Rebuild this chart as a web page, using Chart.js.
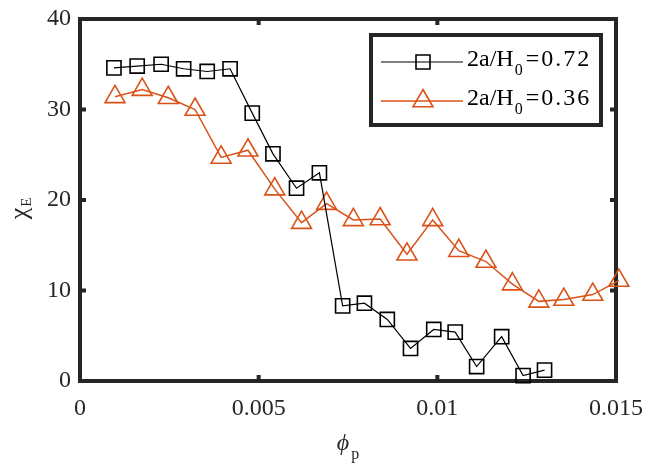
<!DOCTYPE html>
<html><head><meta charset="utf-8">
<script src="https://cdn.jsdelivr.net/npm/chart.js@4.4.1/dist/chart.umd.min.js"></script>
<style>html,body{margin:0;padding:0;background:#fff;}#wrap{width:647px;height:464px;}</style>
</head><body><div id="wrap"><canvas id="c" width="647" height="464"></canvas></div>
<script>
// ---- data ----
const xTicks = [0, 0.005, 0.01, 0.015];
const xTickLabels = ['0', '0.005', '0.01', '0.015'];
const yTicks = [0, 10, 20, 30, 40];
const yTickLabels = ['0', '10', '20', '30', '40'];

const phi072 = [0.00095, 0.0016, 0.00227, 0.0029, 0.00356, 0.0042, 0.00482, 0.0054, 0.00606, 0.0067,
                0.00735, 0.00796, 0.0086, 0.00925, 0.0099, 0.0105, 0.0111, 0.0118, 0.0124, 0.013];
const chi072 = [34.6, 34.8, 35.0, 34.5, 34.2, 34.5, 29.6, 25.1, 21.3, 23.0,
                8.3, 8.6, 6.8, 3.6, 5.7, 5.4, 1.6, 4.9, 0.6, 1.2];

const phi036 = [0.00098, 0.00174, 0.00247, 0.00322, 0.00395, 0.0047, 0.00545, 0.0062, 0.0069, 0.00765,
                0.0084, 0.00915, 0.00987, 0.0106, 0.01136, 0.0121, 0.01284, 0.01354, 0.01435, 0.01508];
const chi036 = [31.4, 32.2, 31.3, 30.0, 24.7, 25.5, 21.2, 17.5, 19.6, 17.8,
                17.9, 14.0, 17.8, 14.4, 13.2, 10.7, 8.8, 9.0, 9.55, 11.1];

const seriesNames = ['2a/H|0|=0.72', '2a/H|0|=0.36'];
const xTitle = ['ϕ', 'p'];
const yTitle = ['χ', 'E'];

const AX = '#262626';
const ORANGE = '#D95319';
const SERIF = '"Liberation Serif", "Times New Roman", serif';

const toPts = (xs, ys) => xs.map((x, i) => ({x: x, y: ys[i]}));

const framePlugin = {
  id: 'frame',
  beforeDatasetsDraw(chart) {
    const {ctx, chartArea: a, scales} = chart;
    ctx.save();
    ctx.strokeStyle = AX;
    ctx.lineWidth = 4;
    ctx.strokeRect(a.left, a.top, a.right - a.left, a.bottom - a.top);
    const tl = 6;
    ctx.beginPath();
    xTicks.forEach(v => {
      const px = scales.x.getPixelForValue(v);
      if (px <= a.left + 2 || px >= a.right - 2) return;
      ctx.moveTo(px, a.bottom); ctx.lineTo(px, a.bottom - tl);
      ctx.moveTo(px, a.top); ctx.lineTo(px, a.top + tl);
    });
    yTicks.forEach(v => {
      const py = scales.y.getPixelForValue(v);
      if (py <= a.top + 2 || py >= a.bottom - 2) return;
      ctx.moveTo(a.left, py); ctx.lineTo(a.left + tl, py);
      ctx.moveTo(a.right, py); ctx.lineTo(a.right - tl, py);
    });
    ctx.stroke();
    ctx.restore();
  },
  afterDraw(chart) {
    const {ctx, chartArea: a} = chart;
    ctx.save();
    // x title
    ctx.fillStyle = AX;
    ctx.textBaseline = 'alphabetic';
    ctx.font = 'italic 24px ' + SERIF;
    const cx = (a.left + a.right) / 2;
    const w1 = ctx.measureText(xTitle[0]).width;
    ctx.font = '16px ' + SERIF;
    const w2 = ctx.measureText(xTitle[1]).width;
    let sx = cx - (w1 + w2 + 2) / 2;
    ctx.font = 'italic 24px ' + SERIF;
    ctx.fillText(xTitle[0], sx, 450);
    ctx.font = '16px ' + SERIF;
    ctx.fillText(xTitle[1], sx + w1 + 2, 459);
    ctx.restore();
    // y title (rotated, reads bottom to top)
    ctx.save();
    ctx.fillStyle = AX;
    ctx.translate(27, 209);
    ctx.rotate(-Math.PI / 2);
    ctx.font = '26px ' + SERIF;
    const v1 = ctx.measureText(yTitle[0]).width;
    ctx.font = '15px ' + SERIF;
    const v2 = ctx.measureText(yTitle[1]).width;
    const sy = -(v1 + v2) / 2;
    ctx.font = '26px ' + SERIF;
    ctx.fillText(yTitle[0], sy, 0);
    ctx.font = '15px ' + SERIF;
    ctx.fillText(yTitle[1], sy + v1 + 1, 4);
    ctx.restore();

    // legend
    ctx.save();
    const L = 371, T = 35, R = 601, B = 125;
    ctx.fillStyle = '#fff';
    ctx.fillRect(L, T, R - L, B - T);
    ctx.strokeStyle = AX;
    ctx.lineWidth = 4;
    ctx.strokeRect(L, T, R - L, B - T);
    const rows = [62, 101];
    chart.data.datasets.forEach((ds, i) => {
      const y = rows[i];
      ctx.strokeStyle = ds.borderColor;
      ctx.lineWidth = ds.borderWidth;
      ctx.beginPath(); ctx.moveTo(381, y); ctx.lineTo(463, y); ctx.stroke();
      ctx.lineWidth = ds.pointBorderWidth;
      ctx.beginPath();
      if (ds.pointStyle === 'rect') {
        ctx.rect(423 - 7, y - 7, 14, 14);
      } else {
        const r = ds.pointRadius;
        ctx.moveTo(423, y - r);
        ctx.lineTo(423 + r * 0.866, y + r / 2);
        ctx.lineTo(423 - r * 0.866, y + r / 2);
        ctx.closePath();
      }
      ctx.stroke();
      const parts = seriesNames[i].split('|');
      ctx.fillStyle = '#000';
      let tx = 467;
      ctx.font = '24px ' + SERIF;
      ctx.fillText(parts[0], tx, y + 4);
      tx += ctx.measureText(parts[0]).width + 1;
      ctx.font = '16px ' + SERIF;
      ctx.fillText(parts[1], tx, y + 13);
      tx += ctx.measureText(parts[1]).width + 3;
      ctx.font = '24px ' + SERIF;
      ctx.letterSpacing = '2px';
      ctx.fillText(parts[2], tx, y + 4);
      ctx.letterSpacing = '0px';
    });
    ctx.restore();
  }
};

new Chart(document.getElementById('c'), {
  type: 'line',
  data: {
    datasets: [
      {
        label: seriesNames[0].replace(/\|/g, ''),
        data: toPts(phi072, chi072),
        borderColor: '#000', backgroundColor: 'rgba(0,0,0,0)',
        borderWidth: 1.2, pointStyle: 'rect', pointRadius: 10, pointBorderWidth: 1.6,
        pointBackgroundColor: 'rgba(0,0,0,0)', pointBorderColor: '#000',
        tension: 0, clip: false
      },
      {
        label: seriesNames[1].replace(/\|/g, ''),
        data: toPts(phi036, chi036),
        borderColor: ORANGE, backgroundColor: 'rgba(0,0,0,0)',
        borderWidth: 1.5, pointStyle: 'triangle', pointRadius: 11.5, pointBorderWidth: 1.6,
        pointBackgroundColor: 'rgba(0,0,0,0)', pointBorderColor: ORANGE,
        tension: 0, clip: false
      }
    ]
  },
  options: {
    responsive: false,
    animation: false,
    devicePixelRatio: 1,
    layout: {padding: {left: 0, right: 31, top: 19, bottom: 0}},
    plugins: {legend: {display: false}, tooltip: {enabled: false}},
    scales: {
      x: {
        type: 'linear', min: 0, max: 0.015,
        afterBuildTicks: s => { s.ticks = xTicks.map(v => ({value: v})); },
        afterFit: s => { s.height = 83; s.paddingLeft = 0; s.paddingRight = 0; },
        grid: {display: false, drawTicks: false},
        border: {display: false},
        ticks: {
          padding: 13, color: AX, maxRotation: 0, autoSkip: false,
          font: {family: SERIF, size: 24},
          callback: (v, i) => xTickLabels[i]
        }
      },
      y: {
        type: 'linear', min: 0, max: 40,
        afterBuildTicks: s => { s.ticks = yTicks.map(v => ({value: v})); },
        afterFit: s => { s.width = 80; s.paddingTop = 0; s.paddingBottom = 0; },
        grid: {display: false, drawTicks: false},
        border: {display: false},
        ticks: {
          padding: 9, color: AX, autoSkip: false,
          font: {family: SERIF, size: 24},
          callback: (v, i) => yTickLabels[i]
        }
      }
    }
  },
  plugins: [framePlugin]
});
</script>
</body></html>
